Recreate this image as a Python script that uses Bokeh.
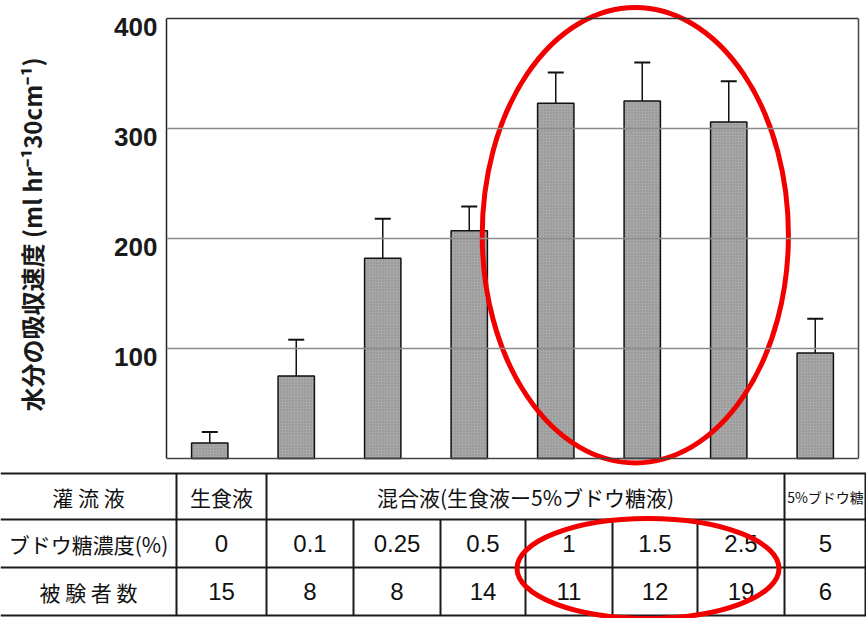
from bokeh.plotting import figure
from bokeh.models import Range1d, FixedTicker, LinearAxis, Span, Whisker, TeeHead, ColumnDataSource
from bokeh.layouts import column
from bokeh.core.properties import value
from bokeh.embed import file_html
from bokeh.resources import INLINE

# ---------------- data ----------------
concentration = ["0", "0.1", "0.25", "0.5", "1", "1.5", "2.5", "5"]       # ブドウ糖濃度(%)
absorption = [14, 75, 182, 207, 323, 325, 306, 96]                      # 水分の吸収速度
sd = [10, 33, 36, 22, 28, 35, 37, 31]
subjects = [15, 8, 8, 14, 11, 12, 19, 6]                                 # 被験者数
fluid_groups = ["生食液", "混合液(生食液ー5%ブドウ糖液)", "5%ブドウ糖"]
fluid_group_cols = [(0, 1), (1, 7), (7, 8)]                              # column spans of each group
row_labels = ["灌 流 液", "ブドウ糖濃度(%)", "被 験 者 数"]
y_ticks = [100, 200, 300, 400]
highlight = ["1", "1.5", "2.5"]

# ---------------- layout / style ----------------
W = 866
CHART_H = 468
TABLE_H = 150
FRAME_L, FRAME_R = 166, 8
PX_PER_UNIT = 1.1          # pixels per y unit
ZERO_PX = 458              # pixel row of y = 0
LABEL_DROP = 8 / PX_PER_UNIT   # tick labels sit a little below their grid line
col_edges = [0, 176, 266, 353, 440, 525, 612, 697, 784, 866]
row_edges = [5, 51, 99, 147]
RED = "#f20000"
CJK = "Noto Sans CJK JP"
NUM = "'Liberation Sans Narrow', 'Liberation Sans', sans-serif"

n = len(concentration)
xs = [i + 0.5 for i in range(n)]

p = figure(width=W, height=CHART_H, output_backend="svg", toolbar_location=None,
           x_range=Range1d(0, n),
           y_range=Range1d(-(CHART_H - ZERO_PX) / PX_PER_UNIT, ZERO_PX / PX_PER_UNIT),
           x_axis_type=None, y_axis_type=None,
           min_border_left=FRAME_L, min_border_right=FRAME_R,
           min_border_top=0, min_border_bottom=0)
p.outline_line_color = None
p.background_fill_color = "white"

# left axis (also left frame edge)
label_pos = [t - LABEL_DROP for t in y_ticks]
yax = LinearAxis(ticker=FixedTicker(ticks=label_pos), bounds=(0, 400),
                 major_label_overrides={lp: str(t) for lp, t in zip(label_pos, y_ticks)})
yax.axis_line_color = "#222222"
yax.axis_line_width = 1.5
yax.major_tick_line_color = None
yax.minor_tick_line_color = None
yax.major_tick_out = 0
yax.major_tick_in = 0
yax.major_label_standoff = 9
yax.major_label_text_font = "Liberation Sans"
yax.major_label_text_font_size = "26px"
yax.major_label_text_font_style = "bold"
yax.major_label_text_color = "#1a1a1a"
yax.axis_label = "水分の吸収速度 (ml hr⁻¹30cm⁻¹)"
yax.axis_label_text_font = CJK
yax.axis_label_text_font_size = "24px"
yax.axis_label_text_font_style = "bold"
yax.axis_label_text_color = "#1a1a1a"
yax.axis_label_standoff = 62
p.add_layout(yax, "left")

# right axis as right frame edge
rax = LinearAxis(ticker=FixedTicker(ticks=[]), bounds=(0, 400))
rax.axis_line_color = "#444444"
rax.axis_line_width = 1.5
rax.major_tick_out = 0
rax.major_tick_in = 0
rax.major_label_standoff = 0
rax.minor_tick_line_color = None
p.add_layout(rax, "right")

# grid lines
for tk in y_ticks[:-1]:
    p.add_layout(Span(location=tk, dimension="width", line_color="#8a8a8a", line_width=1.5))
p.add_layout(Span(location=y_ticks[-1], dimension="width", line_color="#333333", line_width=1.5))
p.add_layout(Span(location=0, dimension="width", line_color="#444444", line_width=1.5))

src = ColumnDataSource(dict(
    x=xs, top=absorption,
    upper=[a + s for a, s in zip(absorption, sd)],
    lower=[a - s for a, s in zip(absorption, sd)],
))
p.vbar(x="x", top="top", bottom=0, width=0.42, source=src,
       fill_color="#a8a8a8", line_color="#111111", line_width=1.5,
       hatch_pattern="dot", hatch_color="#555555", hatch_scale=3, hatch_alpha=0.4)
wh = Whisker(base="x", upper="upper", lower="lower", source=src,
             line_color="#111111", line_width=1.5,
             upper_head=TeeHead(size=16, line_color="#111111", line_width=2),
             lower_head=TeeHead(size=16, line_color="#111111", line_width=2))
p.add_layout(wh)

# highlight ellipse around the three bars
hi_idx = [concentration.index(c) for c in highlight]
hx = (xs[hi_idx[0]] + xs[hi_idx[-1]]) / 2 - 0.08
p.ellipse(x=[hx], y=[203], width=[3.54], height=[414], fill_color=None,
          line_color=RED, line_width=5)

# ---------------- table ----------------
t = figure(width=W, height=TABLE_H, output_backend="svg", toolbar_location=None,
           x_range=Range1d(0, W), y_range=Range1d(TABLE_H, 0),
           x_axis_type=None, y_axis_type=None,
           min_border_left=0, min_border_right=0, min_border_top=0, min_border_bottom=0)
t.outline_line_color = None
t.xgrid.visible = False
t.ygrid.visible = False

LC = "#1a1a1a"
# horizontal rules
t.segment(x0=[col_edges[0]] * len(row_edges), x1=[col_edges[-1]] * len(row_edges),
          y0=row_edges, y1=row_edges, line_color=LC, line_width=2)
# vertical rules spanning all rows
full_cols = [col_edges[1], col_edges[2], col_edges[8], col_edges[9] - 1]
t.segment(x0=full_cols, x1=full_cols, y0=[row_edges[0]] * 4, y1=[row_edges[-1]] * 4,
          line_color=LC, line_width=2)
inner = col_edges[3:8]
t.segment(x0=inner, x1=inner, y0=[row_edges[1]] * len(inner), y1=[row_edges[-1]] * len(inner),
          line_color=LC, line_width=2)

row_c = [(row_edges[i] + row_edges[i + 1]) / 2 for i in range(3)]
col_c = [(col_edges[i + 1] + col_edges[i + 2]) / 2 for i in range(n)]

# row labels
t.text(x=[(col_edges[0] + col_edges[1]) / 2] * 3, y=row_c, text=row_labels,
       text_font=value(CJK), text_font_size="21px", text_align="center",
       text_baseline="middle", text_color="#111111")
# fluid groups
gx = [(col_edges[a + 1] + col_edges[b + 1]) / 2 for a, b in fluid_group_cols]
t.text(x=gx[:2], y=[row_c[0]] * 2, text=fluid_groups[:2],
       text_font=value(CJK), text_font_size="21px", text_align="center",
       text_baseline="middle", text_color="#111111")
t.text(x=gx[2:], y=[row_c[0]], text=fluid_groups[2:],
       text_font=value(CJK), text_font_size="14px", text_align="center",
       text_baseline="middle", text_color="#111111")
# concentrations and subjects
t.text(x=col_c, y=[row_c[1]] * n, text=concentration,
       text_font=value(NUM), text_font_size="24px", text_align="center",
       text_baseline="middle", text_color="#111111")
t.text(x=col_c, y=[row_c[2]] * n, text=[str(s) for s in subjects],
       text_font=value(NUM), text_font_size="24px", text_align="center",
       text_baseline="middle", text_color="#111111")

# highlight ellipse in table
ci = [concentration.index(c) for c in highlight]
ex = (col_edges[ci[0] + 1] + col_edges[ci[-1] + 2]) / 2 - 7
ey = (row_edges[1] + row_edges[3]) / 2 + 1
t.ellipse(x=[ex], y=[ey], width=[262], height=[100], fill_color=None,
          line_color=RED, line_width=5)

for f in (p, t):
    try:
        f.frame_align = False
    except Exception:
        pass

layout = column(p, t, spacing=0)
open("out.html", "w").write(file_html(layout, INLINE))
